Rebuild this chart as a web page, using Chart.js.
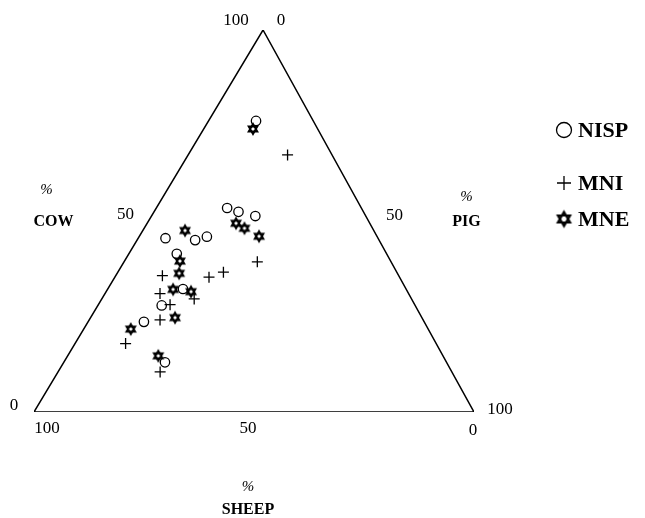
<!DOCTYPE html>
<html><head><meta charset="utf-8">
<script src="https://cdn.jsdelivr.net/npm/chart.js@4/dist/chart.umd.min.js"></script>
<style>html,body{margin:0;padding:0;background:#fff}</style>
</head><body>
<canvas id="c" width="645" height="518"></canvas>
<script>
// ---- data (percentages) ----
const seriesNames = ['NISP', 'MNI', 'MNE'];
const axisNames = ['COW', 'PIG', 'SHEEP'];
const tickLabels = ['0', '50', '100'];

const nispCow   = [76.2, 53.4, 52.4, 51.3, 45.5, 45.0, 45.9, 41.4, 32.2, 27.9, 23.6, 13.0];
const nispPig   = [10.8, 16.1, 19.2, 23.6,  6.2, 13.2, 15.4, 10.9, 17.1, 14.5, 12.7, 23.0];
const nispSheep = [13.0, 30.5, 28.4, 25.1, 48.3, 41.8, 38.7, 47.7, 50.7, 57.6, 63.7, 64.0];

const mniCow   = [67.3, 39.3, 36.6, 35.3, 35.7, 31.0, 29.6, 28.1, 24.1, 17.9, 10.5];
const mniPig   = [22.6, 30.3, 24.0, 21.4, 10.6, 12.5, 21.0, 16.3, 16.1, 11.5, 23.2];
const mniSheep = [10.1, 30.4, 39.4, 43.3, 53.7, 56.5, 49.4, 55.6, 59.8, 70.6, 66.3];

const mneCow   = [74.1, 49.4, 48.1, 46.0, 47.5, 39.5, 36.3, 32.1, 31.5, 24.7, 21.7, 14.7];
const mnePig   = [11.2, 20.2, 22.8, 27.2,  9.6, 12.6, 14.1, 14.9, 19.3, 19.2, 10.7, 20.6];
const mneSheep = [14.7, 30.4, 29.1, 26.8, 42.9, 47.9, 49.6, 53.0, 49.2, 56.1, 67.6, 64.7];

// ---- ternary transform: sheep corner bottom-left, pig bottom-right, cow at the apex ----
const APEX_SHIFT = 0.5205;   // horizontal position of the apex along the base (drawn slightly right of centre)
function tern(cow, pig, sheep) {
  const s = cow + pig + sheep;
  const c = cow / s * 100, p = pig / s * 100;
  return { x: p + c * APEX_SHIFT, y: c };
}
function toPoints(cow, pig, sheep) {
  return cow.map((c, i) => tern(c, pig[i], sheep[i]));
}

function makeStar(r, lw) {
  const size = Math.ceil(2 * r + lw * 2 + 2);
  const cv = document.createElement('canvas');
  cv.width = size; cv.height = size;
  const g = cv.getContext('2d');
  const cx = size / 2, cy = size / 2;
  g.strokeStyle = '#000'; g.lineWidth = lw; g.lineJoin = 'miter';
  [-Math.PI / 2, Math.PI / 2].forEach(a0 => {
    g.beginPath();
    for (let k = 0; k < 3; k++) {
      const a = a0 + k * 2 * Math.PI / 3;
      const px = cx + r * Math.cos(a), py = cy + r * Math.sin(a);
      k === 0 ? g.moveTo(px, py) : g.lineTo(px, py);
    }
    g.closePath(); g.stroke();
  });
  return cv;
}
const starImg = makeStar(5, 1.9);

const frame = [tern(0, 0, 100), tern(0, 100, 0), tern(100, 0, 0), tern(0, 0, 100)];

const textPlugin = {
  id: 'ternText',
  afterDraw(chart) {
    const ctx = chart.ctx;
    const xs = chart.scales.x, ys = chart.scales.y;
    const P = (t) => ({ x: xs.getPixelForValue(t.x), y: ys.getPixelForValue(t.y) });
    const put = (txt, t, dx, dy, font) => {
      const p = P(t);
      ctx.font = font;
      ctx.fillText(txt, p.x + dx, p.y + dy);
    };
    ctx.save();
    ctx.fillStyle = '#000';
    ctx.textAlign = 'center';
    ctx.textBaseline = 'middle';
    const num = '17px "Liberation Serif", "DejaVu Serif", serif';
    const bold = 'bold 16px "Liberation Serif", "DejaVu Serif", serif';
    const pct = 'italic 15px "Liberation Serif", "DejaVu Serif", serif';
    // apex ticks
    put(tickLabels[2], tern(100, 0, 0), -27, -9, num);
    put(tickLabels[0], tern(100, 0, 0), 18, -9, num);
    // left side (COW)
    put(tickLabels[1], tern(50, 0, 50), -23, -6, num);
    put(tickLabels[0], tern(0, 0, 100), -20, -6, num);
    put('%', tern(50, 0, 50), -102, -31, pct);
    put(axisNames[0], tern(50, 0, 50), -95, 1, bold);
    // right side (PIG)
    put(tickLabels[1], tern(50, 50, 0), 26, -5, num);
    put(tickLabels[2], tern(0, 100, 0), 26, -2, num);
    put('%', tern(50, 50, 0), 98, -24, pct);
    put(axisNames[1], tern(50, 50, 0), 98, 1, bold);
    // bottom (SHEEP)
    put(tickLabels[2], tern(0, 0, 100), 13, 17, num);
    put(tickLabels[1], tern(0, 50, 50), -6, 17, num);
    put(tickLabels[0], tern(0, 100, 0), -1, 19, num);
    put('%', tern(0, 50, 50), -6, 75, pct);
    put(axisNames[2], tern(0, 50, 50), -6, 98, bold);

    // legend
    const lx = 564, ly = [130, 183, 219];
    ctx.lineWidth = 1.3; ctx.strokeStyle = '#000';
    ctx.beginPath(); ctx.arc(lx, ly[0], 7.5, 0, Math.PI * 2); ctx.stroke();
    ctx.beginPath(); ctx.moveTo(lx - 7, ly[1]); ctx.lineTo(lx + 7, ly[1]);
    ctx.moveTo(lx, ly[1] - 7); ctx.lineTo(lx, ly[1] + 7); ctx.stroke();
    const big = makeStar(7, 2.2);
    ctx.drawImage(big, lx - big.width / 2, ly[2] - big.height / 2);
    ctx.textAlign = 'left';
    ctx.font = 'bold 22px "Liberation Serif", "DejaVu Serif", serif';
    seriesNames.forEach((n, i) => ctx.fillText(n, lx + 14, ly[i] + 1));
    ctx.restore();
  }
};

new Chart(document.getElementById('c'), {
  type: 'scatter',
  data: {
    datasets: [
      { label: 'frame', data: frame, showLine: true, borderColor: '#000', borderWidth: 1.5,
        pointRadius: 0, fill: false, tension: 0 },
      { label: seriesNames[0], data: toPoints(nispCow, nispPig, nispSheep), pointStyle: 'circle',
        pointRadius: 4.7, borderColor: '#000', backgroundColor: 'rgba(0,0,0,0)', borderWidth: 1.3 },
      { label: seriesNames[1], data: toPoints(mniCow, mniPig, mniSheep), pointStyle: 'cross',
        pointRadius: 5.5, borderColor: '#000', borderWidth: 1.3 },
      { label: seriesNames[2], data: toPoints(mneCow, mnePig, mneSheep), pointStyle: starImg,
        pointRadius: 5, borderColor: '#000' }
    ]
  },
  options: {
    responsive: false,
    animation: false,
    layout: { padding: { left: 34, right: 171, top: 30, bottom: 106 } },
    plugins: { legend: { display: false }, tooltip: { enabled: false } },
    scales: {
      x: { type: 'linear', min: 0, max: 100, display: false },
      y: { type: 'linear', min: 0, max: 100, display: false }
    }
  },
  plugins: [textPlugin]
});
</script>
</body></html>
